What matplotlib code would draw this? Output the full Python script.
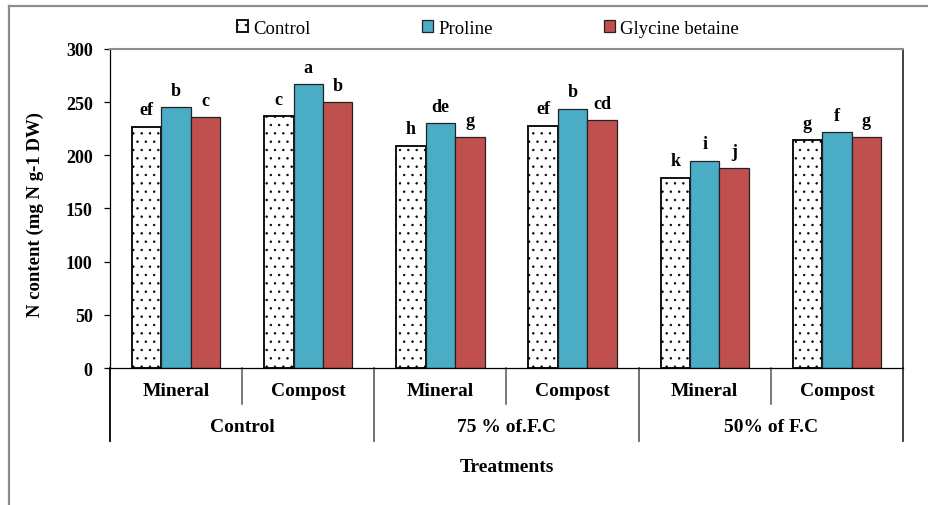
import numpy as np
import matplotlib.pyplot as plt
from matplotlib.lines import Line2D

plt.rcParams['font.family'] = ['Liberation Serif', 'DejaVu Serif']
plt.rcParams['hatch.linewidth'] = 0.5

# data
sub_labels = ['Mineral', 'Compost', 'Mineral', 'Compost', 'Mineral', 'Compost']
group_labels = ['Control', '75 % of.F.C', '50% of F.C']
control = [227, 237, 209, 228, 179, 214]
proline = [245, 267, 230, 244, 195, 222]
glycine = [236, 250, 217, 233, 188, 217]
let_control = ['ef', 'c', 'h', 'ef', 'k', 'g']
let_proline = ['b', 'a', 'de', 'b', 'i', 'f']
let_glycine = ['c', 'b', 'g', 'cd', 'j', 'g']

fig = plt.figure(figsize=(9.29, 5.06), dpi=100)
ax = fig.add_axes([110/929, 1-369/506, 793/929, 319/506])

x = np.arange(len(control))
w = 0.223
b1 = ax.bar(x-w, control, w, color='white', edgecolor='black', hatch='..', linewidth=1.3)
b2 = ax.bar(x, proline, w, color='#4BACC6', edgecolor='#222222', linewidth=0.9)
b3 = ax.bar(x+w, glycine, w, color='#C0504D', edgecolor='#222222', linewidth=0.9)

# significance letters
for off, vals, lets in [(-w, control, let_control), (0, proline, let_proline), (w, glycine, let_glycine)]:
    for xi, v, t in zip(x, vals, lets):
        ax.annotate(t, (xi+off, v), xytext=(0, 6), textcoords='offset points',
                    ha='center', va='bottom', fontsize=13, fontweight='bold')

ax.set_xlim(-0.5, 5.5)
ax.set_ylim(0, 300)
ax.set_yticks(range(0, 301, 50))
ax.set_xticks([])
ax.tick_params(axis='y', direction='out', length=4.5, width=0.9, labelsize=13, pad=8)
for lb in ax.get_yticklabels():
    lb.set_fontweight('bold')

ax.spines['top'].set_color('#8c8c8c')
ax.spines['top'].set_linewidth(1.5)
ax.spines['right'].set_color('#333333')
ax.spines['right'].set_linewidth(1.3)
ax.spines['left'].set_linewidth(0.9)
ax.spines['bottom'].set_linewidth(0.9)

# category axis with two levels
trans = ax.get_xaxis_transform()
for xb in [-0.5, 1.5, 3.5, 5.5]:
    c = '#333333' if xb == 5.5 else ('black' if xb == -0.5 else '#666666')
    ax.plot([xb, xb], [0, -73/319], transform=trans, color=c, lw=1.3, clip_on=False)
for xb in [0.5, 2.5, 4.5]:
    ax.plot([xb, xb], [0, -36/319], transform=trans, color='#555555', lw=1.1, clip_on=False)
for xi, t in zip(x, sub_labels):
    ax.text(xi, -23/319, t, transform=trans, ha='center', va='center', fontsize=14, fontweight='bold')
for gi, t in enumerate(group_labels):
    ax.text(2*gi+0.5, -59/319, t, transform=trans, ha='center', va='center', fontsize=14, fontweight='bold')
ax.text(2.5, -98/319, 'Treatments', transform=trans, ha='center', va='center', fontsize=14, fontweight='bold')

ax.text(-75/793, (369-215)/319, 'N content (mg N g-1 DW)', transform=ax.transAxes, rotation=90,
        ha='center', va='center', fontsize=13.5, fontweight='bold')

fig.legend([b1, b2, b3], ['Control', 'Proline', 'Glycine betaine'], loc='center',
           bbox_to_anchor=(488/929, 1-29.5/506), ncol=3, frameon=False, fontsize=13.5,
           handlelength=0.6, handleheight=0.6, handletextpad=0.3, columnspacing=5.9)

# outer chart border
fig.add_artist(Line2D([9/929, 9/929], [0, 1-7/506], transform=fig.transFigure, color='#8c8c8c', lw=1.6))
fig.add_artist(Line2D([9/929, 1], [1-7/506, 1-7/506], transform=fig.transFigure, color='#8c8c8c', lw=1.6))

fig.savefig('out.png', dpi=100)
